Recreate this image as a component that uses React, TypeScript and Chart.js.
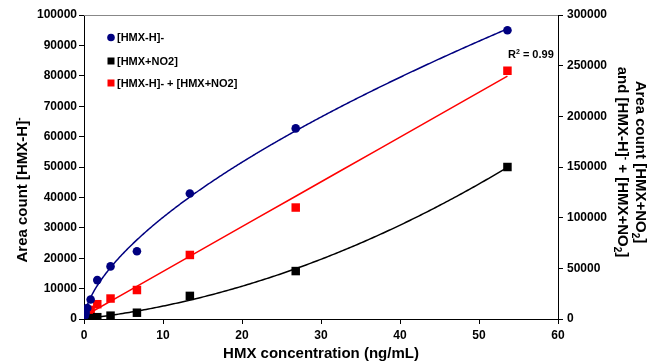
import React, { useEffect, useRef } from 'react';
import { Chart, registerables } from 'chart.js';

Chart.register(...registerables);

// ---- data ----
const concentration = [0.105, 0.21, 0.42, 0.84, 1.68, 3.36, 6.7, 13.4, 26.8, 53.6];
const hmxH = [1100, 2000, 3600, 6400, 12800, 17300, 22300, 41300, 62700, 95000];
const hmxNO2 = [200, 300, 500, 900, 1800, 3300, 6200, 22800, 47300, 150000];
const hmxSum = [1500, 3000, 5500, 9000, 14600, 20200, 28600, 63200, 110000, 245000];

const legendLabels = ['[HMX-H]-', '[HMX+NO2]', '[HMX-H]- + [HMX+NO2]'];
const r2Value = '0.99';
const xMax = 60;
const xStep = 10;
const yMax = 100000;
const yStep = 10000;
const y1Max = 300000;
const y1Step = 50000;

const NAVY = '#000080';
const RED = '#FF0000';
const BLACK = '#000000';
const FONT = '"Liberation Sans", Arial, Helvetica, sans-serif';

// ---- regression helpers (trendlines derived from the data) ----
function linFit(xs: number[], ys: number[], ws?: number[]) {
  const n = xs.length;
  let sw = 0, sx = 0, sy = 0, sxx = 0, sxy = 0;
  for (let i = 0; i < n; i++) {
    const w = ws ? ws[i] : 1;
    sw += w; sx += w * xs[i]; sy += w * ys[i]; sxx += w * xs[i] * xs[i]; sxy += w * xs[i] * ys[i];
  }
  const m = (sw * sxy - sx * sy) / (sw * sxx - sx * sx);
  const b = (sy - m * sx) / sw;
  return { m, b };
}
function powerFit(xs: number[], ys: number[]) {
  // log-log regression weighted by y^2 (approximates least squares in linear space)
  const f = linFit(xs.map(Math.log), ys.map(Math.log), ys.map((y) => y * y));
  return { a: Math.exp(f.b), p: f.m };
}
function quadFit(xs: number[], ys: number[]) {
  const S = [0, 0, 0, 0, 0];
  const T = [0, 0, 0];
  for (let i = 0; i < xs.length; i++) {
    let xp = 1;
    for (let k = 0; k < 5; k++) { S[k] += xp; if (k < 3) T[k] += xp * ys[i]; xp *= xs[i]; }
  }
  const A = [
    [S[0], S[1], S[2], T[0]],
    [S[1], S[2], S[3], T[1]],
    [S[2], S[3], S[4], T[2]],
  ];
  for (let c = 0; c < 3; c++) {
    for (let r = c + 1; r < 3; r++) {
      const f = A[r][c] / A[c][c];
      for (let k = c; k < 4; k++) A[r][k] -= f * A[c][k];
    }
  }
  const res = [0, 0, 0];
  for (let r = 2; r >= 0; r--) {
    let s = A[r][3];
    for (let k = r + 1; k < 3; k++) s -= A[r][k] * res[k];
    res[r] = s / A[r][r];
  }
  return res;
}
function sampleCurve(fn: (x: number) => number, x0: number, x1: number, n: number) {
  const pts: { x: number; y: number }[] = [];
  for (let i = 0; i <= n; i++) {
    const x = x0 + ((x1 - x0) * i) / n;
    pts.push({ x, y: fn(x) });
  }
  return pts;
}

type Seg = { t: string; m?: 'sup' | 'sub' };

function drawRich(ctx: CanvasRenderingContext2D, segs: Seg[], cx: number, cy: number, size: number, rot: number, align: 'center' | 'left' = 'center') {
  ctx.save();
  ctx.translate(cx, cy);
  ctx.rotate(rot);
  ctx.fillStyle = '#000';
  ctx.textBaseline = 'alphabetic';
  ctx.textAlign = 'left';
  const fontFor = (s: Seg) => `bold ${s.m ? Math.round(size * 0.68) : size}px ${FONT}`;
  const widths = segs.map((s) => { ctx.font = fontFor(s); return ctx.measureText(s.t).width; });
  const total = widths.reduce((a, b) => a + b, 0);
  let x = align === 'center' ? -total / 2 : 0;
  const base = size * 0.36;
  segs.forEach((s, i) => {
    ctx.font = fontFor(s);
    const dy = s.m === 'sup' ? -size * 0.38 : s.m === 'sub' ? size * 0.22 : 0;
    ctx.fillText(s.t, x, base + dy);
    x += widths[i];
  });
  ctx.restore();
}

const decorPlugin = {
  id: 'decor',
  afterDraw(chart: any) {
    const ctx: CanvasRenderingContext2D = chart.ctx;
    const ca = chart.chartArea;
    ctx.save();
    ctx.strokeStyle = '#888888';
    ctx.lineWidth = 1;
    ctx.beginPath();
    ctx.moveTo(ca.left, ca.top + 0.5);
    ctx.lineTo(ca.right, ca.top + 0.5);
    ctx.stroke();

    const lx = ca.left + 27;
    const ly = [ca.top + 22.5, ca.top + 46, ca.top + 68];
    const colors = [NAVY, BLACK, RED];
    legendLabels.forEach((lab, i) => {
      ctx.fillStyle = colors[i];
      if (i === 0) {
        ctx.beginPath();
        ctx.arc(lx, ly[i], 3.8, 0, Math.PI * 2);
        ctx.fill();
      } else {
        ctx.fillRect(lx - 3.5, ly[i] - 3.5, 7, 7);
      }
      ctx.fillStyle = '#000';
      ctx.font = `bold 11px ${FONT}`;
      ctx.textAlign = 'left';
      ctx.textBaseline = 'middle';
      ctx.fillText(lab, lx + 6, ly[i] + 0.5);
    });

    drawRich(ctx, [{ t: 'R' }, { t: '2', m: 'sup' }, { t: ' = ' + r2Value }], ca.right - 50, ca.top + 39, 11, 0, 'left');

    const midY = (ca.top + ca.bottom) / 2;
    drawRich(ctx, [{ t: 'Area count [HMX-H]' }, { t: '-', m: 'sup' }], 22, midY + 23, 15, -Math.PI / 2);
    drawRich(ctx, [{ t: 'Area count [HMX+NO' }, { t: '2', m: 'sub' }, { t: ']' }], 641, midY - 5, 15, Math.PI / 2);
    drawRich(ctx, [{ t: 'and [HMX-H]' }, { t: '-', m: 'sup' }, { t: ' + [HMX+NO' }, { t: '2', m: 'sub' }, { t: ']' }], 623, midY - 5, 15, Math.PI / 2);
    drawRich(ctx, [{ t: 'HMX concentration (ng/mL)' }], (ca.left + ca.right) / 2, 353, 15, 0);
    ctx.restore();
  },
};

export default function App() {
  const ref = useRef<HTMLCanvasElement | null>(null);

  useEffect(() => {
    if (!ref.current) return;
    const x0 = concentration[0];
    const x1 = concentration[concentration.length - 1];
    const pf = powerFit(concentration, hmxH);
    const lf = linFit(concentration, hmxSum);
    const qf = quadFit(concentration, hmxNO2);

    const toPts = (ys: number[]) => concentration.map((x, i) => ({ x, y: ys[i] }));
    const tickFont = { family: FONT, size: 12, weight: 'bold' as const };

    const chart = new Chart(ref.current, {
      type: 'scatter',
      data: {
        datasets: [
          { label: legendLabels[0], data: toPts(hmxH), yAxisID: 'y', pointStyle: 'circle', pointRadius: 4.3, backgroundColor: NAVY, borderColor: NAVY, borderWidth: 0, showLine: false },
          { label: legendLabels[1], data: toPts(hmxNO2), yAxisID: 'y1', pointStyle: 'rect', pointRadius: 6, backgroundColor: BLACK, borderColor: BLACK, borderWidth: 0, showLine: false },
          { label: legendLabels[2], data: toPts(hmxSum), yAxisID: 'y1', pointStyle: 'rect', pointRadius: 6, backgroundColor: RED, borderColor: RED, borderWidth: 0, showLine: false },
          { label: 'fit1', data: sampleCurve((x) => pf.a * Math.pow(x, pf.p), x0, x1, 400), yAxisID: 'y', showLine: true, pointRadius: 0, borderColor: NAVY, borderWidth: 1.5, fill: false },
          { label: 'fit2', data: sampleCurve((x) => qf[0] + qf[1] * x + qf[2] * x * x, x0, x1, 200), yAxisID: 'y1', showLine: true, pointRadius: 0, borderColor: BLACK, borderWidth: 1.5, fill: false },
          { label: 'fit3', data: sampleCurve((x) => lf.b + lf.m * x, x0, x1, 10), yAxisID: 'y1', showLine: true, pointRadius: 0, borderColor: RED, borderWidth: 1.5, fill: false },
        ] as any,
      },
      options: {
        animation: false,
        responsive: false,
        maintainAspectRatio: false,
        layout: { padding: { top: 15, left: 0, right: 0, bottom: 0 } },
        plugins: { legend: { display: false }, tooltip: { enabled: false } },
        scales: {
          x: {
            type: 'linear', min: 0, max: xMax,
            ticks: { stepSize: xStep, color: '#000', font: tickFont, padding: 4, maxRotation: 0, callback: (v: any) => String(v) },
            grid: { display: true, drawOnChartArea: false, tickLength: 5, color: '#000' },
            border: { display: true, color: '#000', width: 1 },
            afterFit: (s: any) => { s.height = 45; },
          },
          y: {
            type: 'linear', position: 'left', min: 0, max: yMax,
            ticks: { stepSize: yStep, color: '#000', font: tickFont, padding: 2, callback: (v: any) => String(v) },
            grid: { display: true, drawOnChartArea: false, tickLength: 5, color: '#000' },
            border: { display: true, color: '#000', width: 1 },
            afterFit: (s: any) => { s.width = 84; },
          },
          y1: {
            type: 'linear', position: 'right', min: 0, max: y1Max,
            ticks: { stepSize: y1Step, color: '#000', font: tickFont, padding: 4, callback: (v: any) => String(v) },
            grid: { display: true, drawOnChartArea: false, tickLength: 5, color: '#000' },
            border: { display: true, color: '#000', width: 1 },
            afterFit: (s: any) => { s.width = 93; },
          },
        },
      } as any,
      plugins: [decorPlugin],
    });
    return () => chart.destroy();
  }, []);

  return (
    <div style={{ position: 'absolute', left: 0, top: 0, width: 651, height: 364, background: '#fff' }}>
      <canvas ref={ref} width={651} height={364} style={{ width: 651, height: 364, display: 'block' }} />
    </div>
  );
}
